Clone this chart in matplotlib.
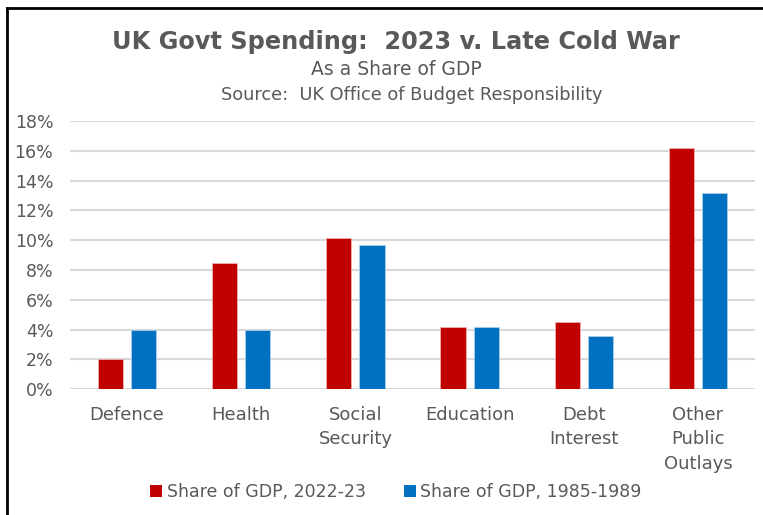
import matplotlib
matplotlib.use("Agg")
import matplotlib.pyplot as plt
import numpy as np
from matplotlib.lines import Line2D
from matplotlib.patches import Patch

categories = ["Defence", "Health", "Social\nSecurity", "Education", "Debt\nInterest", "Other\nPublic\nOutlays"]
share_2023 = [2.0, 8.5, 10.15, 4.15, 4.5, 16.2]
share_1985_89 = [4.0, 3.95, 9.7, 4.15, 3.6, 13.2]
series_names = ["Share of GDP, 2022-23", "Share of GDP, 1985-1989"]
yticks = [0, 2, 4, 6, 8, 10, 12, 14, 16, 18]

RED = "#C00000"
BLUE = "#0070C0"
GRAY = "#595959"

plt.rcParams['font.family'] = ['DejaVu Sans']

W, H = 763, 515
fig = plt.figure(figsize=(W/100, H/100), dpi=100)
ax = fig.add_axes([70/W, 1-389.3/H, 685/W, (389.3-121)/H])

x = np.arange(len(categories))
bw = 0.22
off = 0.145
ax.bar(x - off, share_2023, bw, color=RED, edgecolor="#f2b0b0", linewidth=0.6, zorder=3)
ax.bar(x + off, share_1985_89, bw, color=BLUE, edgecolor="#a9cdea", linewidth=0.6, zorder=3)

ax.set_xlim(-0.5, len(categories) - 0.5)
ax.set_ylim(0, 18)
ax.set_yticks(yticks)
ax.set_yticklabels([f"{t}%" for t in yticks])
ax.set_xticks(x)
ax.set_xticklabels(categories, linespacing=1.45, va="top")
ax.tick_params(axis="both", length=0, colors=GRAY, labelsize=12.5)
ax.tick_params(axis="x", labelsize=13)
ax.tick_params(axis="y", pad=12)
ax.tick_params(axis="x", pad=12)
ax.grid(axis="y", color="#d9d9d9", linewidth=1.5, zorder=0)
ax.set_axisbelow(True)
for s in ax.spines.values():
    s.set_visible(False)

fig.text(396/W, 1-42/H, "UK Govt Spending:  2023 v. Late Cold War", ha="center", va="center",
         fontsize=17.3, fontweight="bold", color=GRAY)
fig.text(396/W, 1-70/H, "As a Share of GDP", ha="center", va="center", fontsize=13.5, color=GRAY)
fig.text(412/W, 1-95/H, "Source:  UK Office of Budget Responsibility", ha="center", va="center",
         fontsize=12.8, color=GRAY)

handles = [Patch(facecolor=RED), Patch(facecolor=BLUE)]
leg = fig.legend(handles, series_names, loc="center", bbox_to_anchor=(396/W, 1-492/H), ncol=2,
                 frameon=False, handlelength=0.7, handleheight=0.7, handletextpad=0.25,
                 columnspacing=2.2, fontsize=12.5)
for t in leg.get_texts():
    t.set_color(GRAY)

fig.add_artist(Line2D([7/W, 7/W], [0, 1-8/H], color="black", linewidth=2, transform=fig.transFigure))
fig.add_artist(Line2D([7/W, 1], [1-8/H, 1-8/H], color="black", linewidth=2, transform=fig.transFigure))

fig.savefig("out.png", dpi=100, facecolor="white")
